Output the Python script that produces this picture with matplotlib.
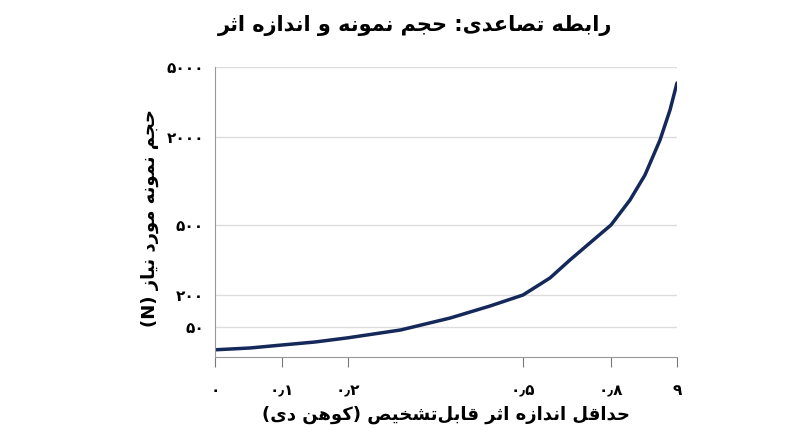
import matplotlib
matplotlib.use("Agg")
import matplotlib.pyplot as plt
import numpy as np

# ---- data ----
effect = [0, 0.052, 0.1, 0.15, 0.2, 0.29, 0.375, 0.443, 0.5, 0.592, 0.66, 0.728, 0.8, 3.16, 5.02, 6.89, 8.13, 9]
sample = [12, 15, 20, 25, 32, 45, 92, 148, 200, 273, 350, 423, 500, 926, 1352, 1949, 3157, 4314]
x_ticks = [0, 0.1, 0.2, 0.5, 0.8, 9]
x_labels = ["۰", "۰٫۱", "۰٫۲", "۰٫۵", "۰٫۸", "۹"]
y_ticks = [50, 200, 500, 2000, 5000]
y_labels = ["۵۰", "۲۰۰", "۵۰۰", "۲۰۰۰", "۵۰۰۰"]
title = "رابطه تصاعدی: حجم نمونه و اندازه اثر"
xlabel = "حداقل اندازه اثر قابل\u200cتشخیص (کوهن دی)"
ylabel = "حجم نمونه مورد نیاز (N)"

# ---- minimal Arabic/Persian shaping ----
DUAL = {'ب':'FE8F','ت':'FE95','ث':'FE99','ج':'FE9D','ح':'FEA1','خ':'FEA5','س':'FEB1','ش':'FEB5',
        'ص':'FEB9','ض':'FEBD','ط':'FEC1','ظ':'FEC5','ع':'FEC9','غ':'FECD','ف':'FED1','ق':'FED5',
        'ل':'FEDD','م':'FEE1','ن':'FEE5','ه':'FEE9'}
RIGHT = {'ا':'FE8D','د':'FEA9','ذ':'FEAB','ر':'FEAD','ز':'FEAF','و':'FEED'}
SPECIAL = {'ی':[0xFBFC,0xFBFD,0xFBFE,0xFBFF],'ک':[0xFB8E,0xFB8F,0xFB90,0xFB91]}
def forms(c):
    if c in SPECIAL: return SPECIAL[c], True
    if c in DUAL:
        b = int(DUAL[c],16); return [b,b+1,b+2,b+3], True
    if c in RIGHT:
        b = int(RIGHT[c],16); return [b,b+1], False
    return None, False
def shape(s):
    out = []
    for i,c in enumerate(s):
        f, dual = forms(c)
        if f is None:
            if c != '\u200c': out.append(c)
            continue
        p = s[i-1] if i > 0 else ''
        n = s[i+1] if i+1 < len(s) else ''
        pj = forms(p)[1] if p else False
        nj = dual and n and forms(n)[0] is not None
        if pj and nj: ch = f[3]
        elif pj: ch = f[1]
        elif nj: ch = f[2]
        else: ch = f[0]
        out.append(chr(ch))
    r = ''.join(out)[::-1]
    return r.translate(str.maketrans('()', ')('))

# ---- scales ----
xv = np.array([0, 0.1, 0.2, 0.5, 0.8, 9]); xp = np.array([215, 282, 348, 523, 611, 677.0])
yv = np.array([0, 50, 200, 500, 2000, 5000]); yp = -np.array([357, 327, 295, 225, 137, 67.0])
fx = lambda v: np.interp(v, xv, xp); ix = lambda p: np.interp(p, xp, xv)
fy = lambda v: np.interp(v, yv, yp); iy = lambda p: np.interp(p, yp, yv)

plt.rcParams['font.family'] = ['DejaVu Sans']
fig = plt.figure(figsize=(8, 4.47), dpi=100)
ax = fig.add_axes([215/800, 1-357/447, (677-215)/800, (357-67)/447])
ax.set_xscale('function', functions=(fx, ix))
ax.set_yscale('function', functions=(fy, iy))
ax.set_xlim(0, 9); ax.set_ylim(0, 5000)
ax.plot(effect, sample, color='#14285a', lw=2.5, solid_capstyle='round')
ax.set_xticks(x_ticks); ax.set_xticklabels(x_labels, fontsize=11, fontweight='bold')
ax.set_yticks(y_ticks); ax.set_yticklabels(y_labels, fontsize=11, fontweight='bold')
ax.yaxis.grid(True, color='#dddddd', lw=1)
for s in ['top', 'right']: ax.spines[s].set_visible(False)
ax.spines['left'].set_color('#999999'); ax.spines['bottom'].set_color('#999999')
ax.tick_params(axis='x', length=7, color='#777777', pad=12)
ax.tick_params(axis='y', length=0, pad=8)
ax.set_axisbelow(True)
fig.text(415/800, 1-25/447, shape(title), ha='center', va='center', fontsize=15, fontweight='bold')
fig.text(446/800, 1-415/447, shape(xlabel), ha='center', va='center', fontsize=13, fontweight='bold')
fig.text(150/800, 1-218/447, shape(ylabel), ha='center', va='center', fontsize=13, fontweight='bold', rotation=90)
fig.savefig('out.png', dpi=100)
